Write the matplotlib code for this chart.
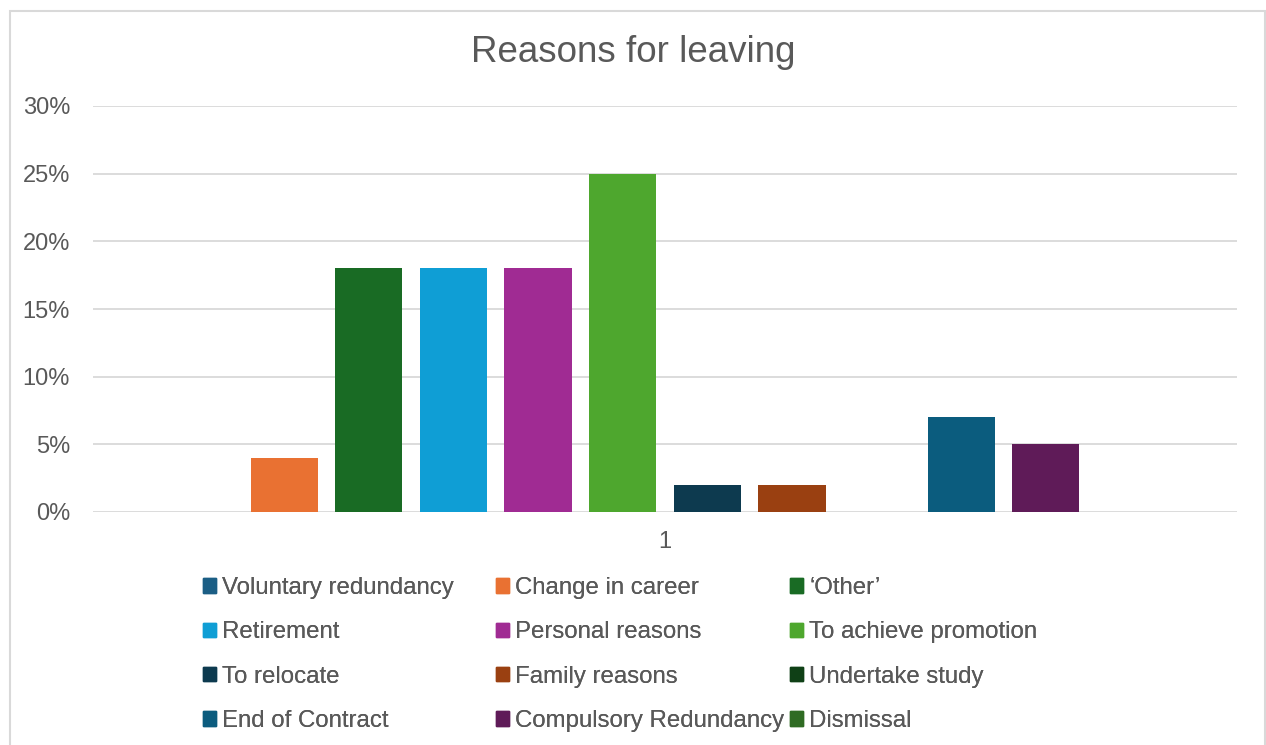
import matplotlib
matplotlib.use("Agg")
import matplotlib.pyplot as plt
from matplotlib.patches import Rectangle, Patch
from matplotlib.ticker import PercentFormatter

plt.rcParams["font.family"] = ["Liberation Sans", "DejaVu Sans"]

# ---------------------------------------------------------------- data
reasons = ["Voluntary redundancy", "Change in career", "\u2018Other\u2019",
           "Retirement", "Personal reasons", "To achieve promotion",
           "To relocate", "Family reasons", "Undertake study",
           "End of Contract", "Compulsory Redundancy", "Dismissal"]
share = [0, 4, 18, 18, 18, 25, 2, 2, 0, 7, 5, 0]          # % of leavers
colors = ["#1B5E85", "#E97132", "#196B24", "#0F9ED5", "#A02B93", "#4EA72E",
          "#0D3A4F", "#9A4011", "#0F4016", "#0B5C7E", "#5F1B58", "#2F6B23"]
category = ["1"]

TXT = "#595959"
GRID = "#D9D9D9"

fig = plt.figure(figsize=(12.66, 7.45), dpi=100)
W, H = 1266, 745
# plot area in px: x 93..1237, y 106..512
ax = fig.add_axes([93 / W, 1 - 512 / H, (1237 - 93) / W, (512 - 106) / H])

n = len(share)
step, width = 0.074, 0.0586
for i, (v, c) in enumerate(zip(share, colors)):
    ax.bar(0 + (i - (n - 1) / 2) * step, v, width=width, color=c, zorder=3)

ax.set_xlim(-0.5, 0.5)
ax.set_ylim(0, 30)
ax.set_yticks(range(0, 31, 5))
ax.yaxis.set_major_formatter(PercentFormatter(decimals=0))
ax.set_xticks([0])
ax.set_xticklabels(category)
ax.grid(axis="y", color=GRID, lw=1.3, zorder=0)
for s in ax.spines.values():
    s.set_visible(False)
ax.tick_params(length=0, labelsize=17, colors=TXT)
ax.tick_params(axis="y", pad=16.5)
ax.tick_params(axis="x", pad=14)

fig.text(633 / W, 1 - 53 / H, "Reasons for leaving", ha="center", va="center",
         fontsize=26.5, color=TXT)

# chart border
fig.patches.append(Rectangle((10 / W, -0.01), (1265 - 10) / W, 1.01 - 11 / H,
                             transform=fig.transFigure, fill=False,
                             ec=GRID, lw=1.5))

# legend: 3 fixed-width columns, row-major order as in Excel
handles = [Patch(color=c, label=r) for r, c in zip(reasons, colors)]
for col, x0 in enumerate([203, 496, 790]):
    leg = fig.legend(handles=handles[col::3], loc="upper left",
                     bbox_to_anchor=(x0 / W, 1 - 577 / H), frameon=False,
                     fontsize=17.3, labelcolor=TXT, handlelength=0.55,
                     handleheight=0.55, handletextpad=0.25,
                     labelspacing=0.93, borderpad=0, borderaxespad=0)
    fig.add_artist(leg)

fig.savefig("out.png", dpi=100)
